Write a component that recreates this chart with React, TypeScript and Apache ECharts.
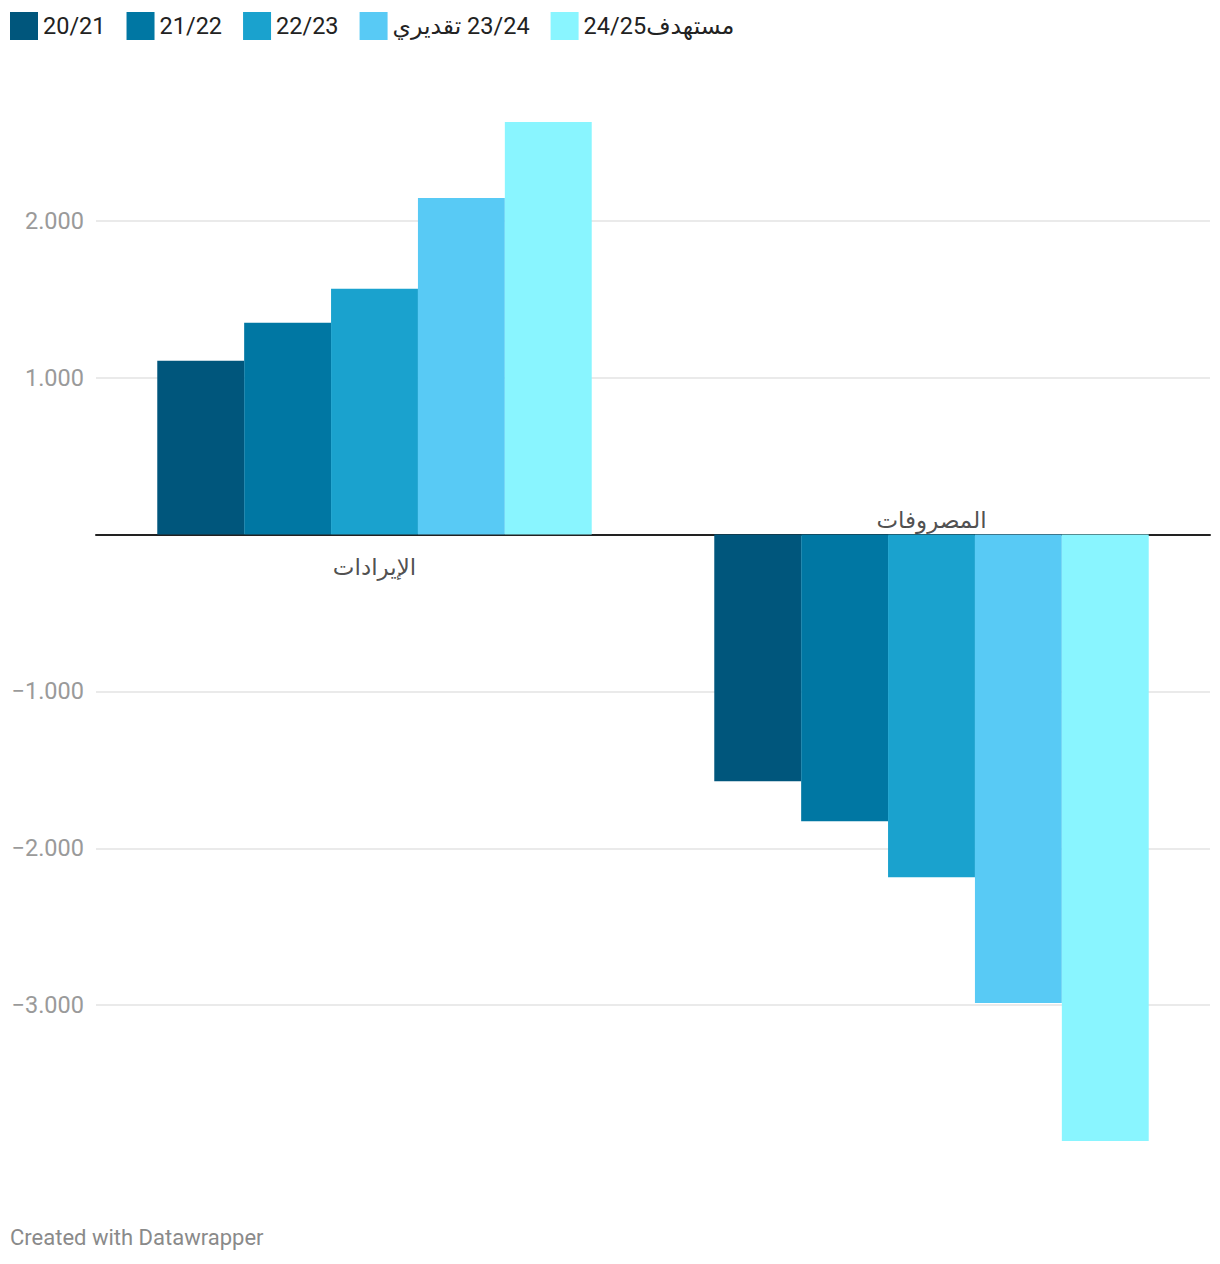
import React, { useEffect, useRef } from "react";
import * as echarts from "echarts";

const categories = ["الإيرادات", "المصروفات"];
const seriesNames = ["20/21", "21/22", "22/23", "تقديري\u200E 23/24", "24/25مستهدف"];
const seriesColors = ["#00567c", "#0077a3", "#1aa2ce", "#58caf5", "#89f5ff"];
const values2021 = [1108, -1573];
const values2122 = [1350, -1828];
const values2223 = [1567, -2185];
const values2324 = [2146, -2987];
const values2425 = [2631, -3866];
const yTicks = [-3000, -2000, -1000, 1000, 2000];
const footerText = "Created with Datawrapper";

const FONT = "Roboto, 'DejaVu Sans', sans-serif";

export default function App() {
  const ref = useRef<HTMLDivElement>(null);
  useEffect(() => {
    document.body.style.margin = "0";
    const chart = echarts.init(ref.current!, null, { renderer: "svg" });
    const allValues = [values2021, values2122, values2223, values2324, values2425];
    const fmt = (v: number) => {
      if (!yTicks.includes(v)) return "";
      const abs = Math.abs(v).toString().replace(/\B(?=(\d{3})+(?!\d))/g, ".");
      return (v < 0 ? "\u2212" : "") + abs;
    };
    chart.setOption({
      animation: false,
      textStyle: { fontFamily: FONT },
      legend: {
        data: seriesNames,
        left: 10,
        top: 12,
        padding: 0,
        itemWidth: 28,
        itemHeight: 28,
        itemGap: 21,
        icon: "rect",
        textStyle: { fontSize: 23.5, color: "#222", fontFamily: FONT },
        selectedMode: false,
      },
      grid: { left: 96, right: 10, top: 64, height: 1098, containLabel: false },
      xAxis: {
        type: "category",
        data: categories,
        axisLine: { show: true, onZero: true, lineStyle: { color: "#222", width: 2 } },
        axisTick: { show: false },
        axisLabel: { show: false },
        splitLine: { show: false },
      },
      yAxis: {
        type: "value",
        min: -4000,
        max: 3000,
        interval: 1000,
        axisLine: { show: false },
        axisTick: { show: false },
        axisLabel: {
          formatter: fmt,
          color: "#9a9a9a",
          fontSize: 23.5,
          margin: 12,
          fontFamily: FONT,
        },
        splitLine: {
          show: true,
          showMinLine: false,
          showMaxLine: false,
          lineStyle: { color: "#e3e3e3", width: 1.5 },
        },
      },
      series: [
        ...seriesNames.map((name, i) => ({
          name,
          type: "bar",
          data: allValues[i],
          barGap: "0%",
          barCategoryGap: "22%",
          itemStyle: { color: seriesColors[i] },
          z: 1,
        })),
        {
          type: "scatter",
          symbolSize: 0,
          silent: true,
          z: 5,
          data: [
            {
              value: [categories[0], 0],
              label: { show: true, position: "bottom", distance: 21, formatter: categories[0] },
            },
            {
              value: [categories[1], 0],
              label: { show: true, position: "top", distance: 3, formatter: categories[1] },
            },
          ],
          label: { fontSize: 23, color: "#222", fontFamily: FONT },
        },
      ],
      graphic: [
        {
          type: "text",
          left: 10,
          top: 1226,
          style: { text: footerText, fontSize: 22, fill: "#8a8a8a", fontFamily: FONT },
        },
      ],
    });
    return () => chart.dispose();
  }, []);
  return (
    <div
      ref={ref}
      style={{ position: "absolute", left: 0, top: 0, width: 1220, height: 1264 }}
    />
  );
}
